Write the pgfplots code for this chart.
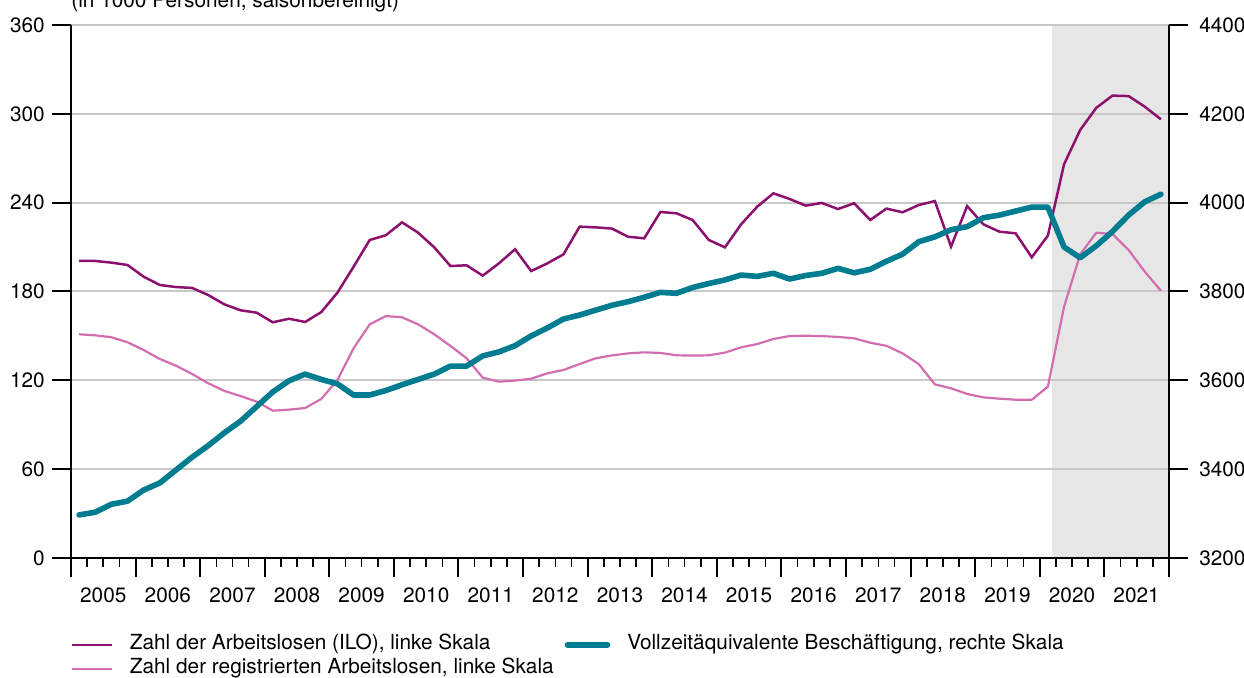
\documentclass[border=0pt]{standalone}
\usepackage{fontspec}
\setmainfont{TeX Gyre Heros}
\usepackage{pgfplots}
\usepackage{pgfplotstable}
\pgfplotsset{compat=1.18}

\definecolor{ilo}{RGB}{140,16,110}
\definecolor{reg}{RGB}{210,110,175}
\definecolor{vze}{RGB}{0,124,145}
\definecolor{gridgray}{RGB}{200,200,200}
\definecolor{forecastgray}{RGB}{230,230,230}

% quarterly values, x = middle of the quarter
\pgfplotstableread{
x ilo reg vze
2005.125 200.6 151.1 3297
2005.375 200.6 150.4 3303
2005.625 199.5 149.1 3321
2005.875 197.9 145.7 3328
2006.125 190.0 140.5 3353
2006.375 184.4 134.4 3369
2006.625 183.0 129.9 3398
2006.875 182.4 124.3 3427
2007.125 177.6 118.0 3453
2007.375 171.3 112.8 3482
2007.625 167.3 109.4 3508
2007.875 165.7 105.6 3541
2008.125 159.2 99.5 3574
2008.375 161.6 100.2 3599
2008.625 159.4 101.3 3614
2008.875 166.1 107.4 3602
2009.125 179.2 120.2 3592
2009.375 196.7 141.6 3567
2009.625 214.8 157.8 3567
2009.875 218.0 163.4 3577
2010.125 226.7 162.6 3590
2010.375 219.7 157.8 3602
2010.625 209.8 151.1 3614
2010.875 197.2 143.2 3632
2011.125 197.7 134.9 3632
2011.375 190.7 121.8 3655
2011.625 199.0 119.1 3664
2011.875 208.5 119.8 3678
2012.125 193.8 121.1 3700
2012.375 199.0 124.7 3718
2012.625 205.1 127.0 3738
2012.875 223.8 131.0 3747
2013.125 223.3 134.9 3758
2013.375 222.5 136.8 3769
2013.625 217.0 138.2 3777
2013.875 215.9 138.9 3787
2014.125 233.7 138.5 3798
2014.375 232.8 136.9 3796
2014.625 228.3 136.7 3809
2014.875 214.8 136.9 3818
2015.125 209.8 138.7 3826
2015.375 225.4 142.3 3837
2015.625 237.3 144.5 3834
2015.875 246.3 147.9 3841
2016.125 242.5 149.9 3828
2016.375 238.0 150.1 3836
2016.625 239.8 149.9 3841
2016.875 235.7 149.3 3852
2017.125 239.6 148.4 3842
2017.375 228.3 145.4 3850
2017.625 236.0 143.3 3868
2017.875 233.5 138.2 3884
2018.125 238.4 131.0 3912
2018.375 241.1 117.3 3923
2018.625 210.3 114.6 3939
2018.875 237.7 110.8 3946
2019.125 225.4 108.5 3966
2019.375 220.4 107.6 3972
2019.625 219.3 106.9 3981
2019.875 203.1 106.9 3990
2020.125 217.7 115.7 3990
2020.375 265.9 169.7 3900
2020.625 289.1 205.1 3876
2020.875 304.1 219.7 3903
2021.125 312.3 218.8 3935
2021.375 312.0 208.0 3972
2021.625 304.8 193.4 4002
2021.875 296.3 180.5 4019
}\datatab

\pgfplotsset{
  base/.style={
    scale only axis,
    width=549pt, height=266.5pt,
    xmin=2005, xmax=2022,
    /pgf/number format/assume math mode=true,
    /pgf/number format/1000 sep={},
    major tick length=9.5pt,
    minor tick length=4.5pt,
    major tick style={line width=1pt, black},
    minor tick style={line width=0.8pt, black},
  },
  % after the axis line keys, which reset the arrows and the tick alignment
  fixlines/.style={axis line style={-, line width=1pt, black}, tick align=outside},
  ilostyle/.style={ilo, line width=1.25pt},
  regstyle/.style={reg, line width=1.1pt},
  vzestyle/.style={vze, line width=2.8pt, line cap=round, line join=round},
}

\begin{document}
\fontsize{10.4}{12.5}\selectfont
\begin{tikzpicture}
% shaded forecast period
\begin{axis}[base, ymin=0, ymax=360, hide axis]
\fill[forecastgray] (axis cs:2020.19,0) rectangle (axis cs:2022,360);
\end{axis}

\begin{axis}[base,
    ymin=0, ymax=360,
    ytick={0,60,...,360},
    axis x line=bottom, axis y line=left,
    fixlines,
    xtick={2005,...,2022},
    x tick label as interval,
    minor xtick={2005,2005.25,...,2022},
    xticklabel style={yshift=-1.5pt},
    ymajorgrids,
    major grid style={draw=gridgray, line width=1pt},
    legend columns=2,
    legend cell align=left,
    legend image code/.code={\draw[#1] (0pt,0pt) -- (20pt,0pt);},
    legend style={draw=none, fill=none, at={(0,0)}, anchor=north west,
      xshift=-0.5pt, yshift=-37.2pt, inner sep=0pt, row sep=0pt,
      nodes={inner sep=0pt, text height=8.5pt, text depth=3.5pt},
      /tikz/every odd column/.append style={column sep=8.5pt},
      /tikz/every even column/.append style={column sep=5.5pt}},
  ]
\addplot[ilostyle] table[x=x, y=ilo] {\datatab};
\addlegendentry{Zahl der Arbeitslosen (ILO), linke Skala}
\addlegendimage{vzestyle}
\addlegendentry{Vollzeitäquivalente Beschäftigung, rechte Skala}
\addplot[regstyle] table[x=x, y=reg] {\datatab};
\addlegendentry{Zahl der registrierten Arbeitslosen, linke Skala}
\end{axis}

\begin{axis}[base,
    ymin=3200, ymax=4400,
    ytick={3200,3400,...,4400},
    axis y line=right, axis x line=none,
    fixlines,
    xtick=\empty,
    yticklabel style={xshift=2pt},
  ]
\addplot[vzestyle] table[x=x, y=vze] {\datatab};
\end{axis}

\node[anchor=base west, inner sep=0pt] at (0pt,275pt) {(in 1000 Personen, saisonbereinigt)};

\pgfresetboundingbox
\useasboundingbox (-35.5pt,-60pt) rectangle (586.5pt,279pt);
\end{tikzpicture}
\end{document}
